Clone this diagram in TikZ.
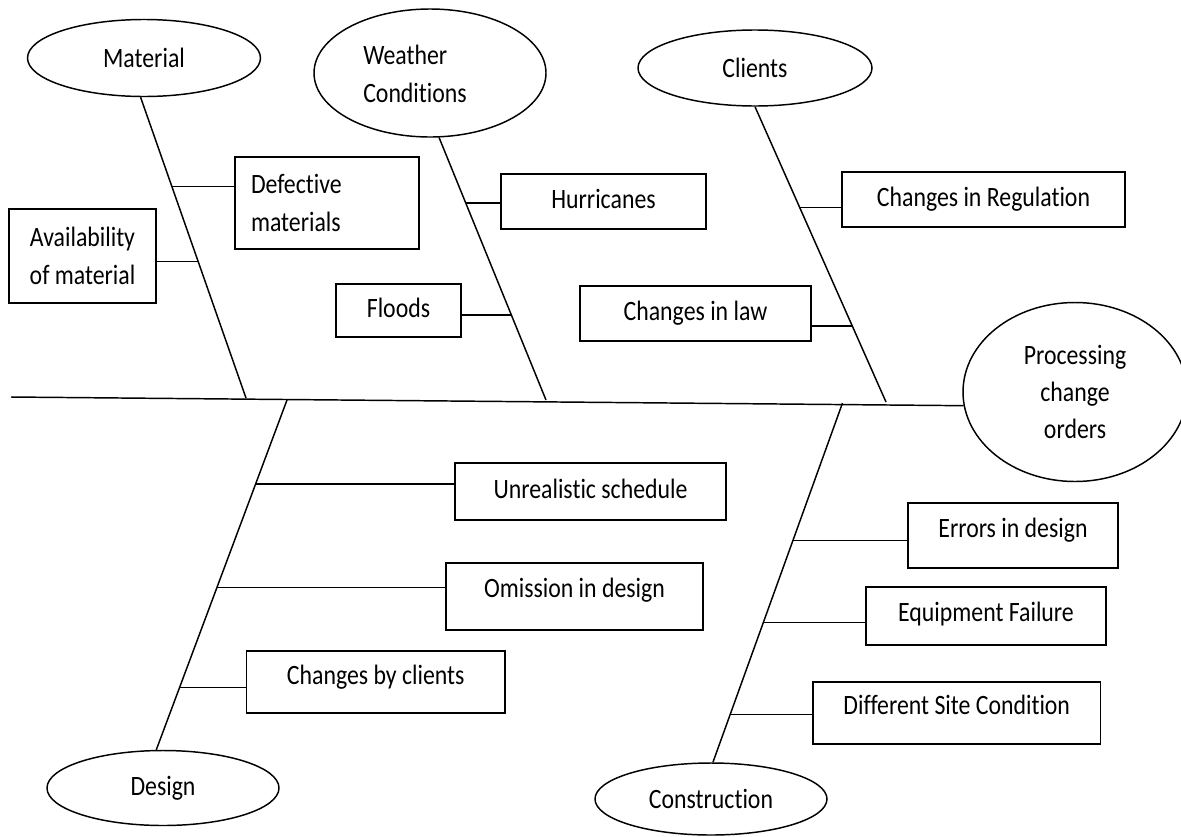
\documentclass[tikz,border=0pt]{standalone}
\usepackage{fontspec}
\setmainfont{Carlito}[FakeStretch=0.85, Ligatures={NoCommon}]
\usetikzlibrary{shapes.geometric,calc}

\begin{document}
\begin{tikzpicture}[x=0.75pt,y=-0.75pt,
  every node/.style={font=\fontsize{21pt}{28pt}\selectfont, inner sep=0pt},
  line/.style={line width=1.1pt, black},
  cat/.style={ellipse, draw, line width=1.1pt, inner sep=0pt},
  cause/.style={rectangle, draw, line width=1.2pt, inner sep=0pt},
  single/.style={text height=15pt, text depth=#1},
  single/.default=5pt,
]
\useasboundingbox (0,0) rectangle (1181,836);

% category heads
\node[cat, minimum width=174.75pt, minimum height=57.75pt] (matl) at (144,58) {Material};
\node[cat, minimum width=174pt, minimum height=96pt] (wcond) at (430,73) {};
\node[anchor=west, align=left] (wcondtext) at (363,74) {Weather\\Conditions};
\node[cat, minimum width=175.5pt, minimum height=57pt] (clnt) at (755,68) {Clients};
\node[cat, minimum width=168pt, minimum height=134.25pt, align=center] (proc) at (1075,392) {Processing\\change\\orders};
\node[cat, minimum width=174pt, minimum height=56.25pt] (dsgn) at (163,788) {Design};
\node[cat, minimum width=174pt, minimum height=54pt] (cons) at (711,799) {Construction};

% causes
\node[cause, minimum width=138pt, minimum height=69pt, text width=114pt, align=left] (defect) at (327,203) {Defective\\materials};
\node[cause, minimum width=110.25pt, minimum height=70.5pt, align=center] (avail) at (82.5,256) {Availability\\of material};
\node[cause, single, minimum width=153.75pt, minimum height=41.25pt] (hurr) at (603.5,201.5) {Hurricanes};
\node[cause, single, minimum width=93.75pt, minimum height=39.75pt] (flood) at (398.5,310.5) {Floods};
\node[cause, single, minimum width=212.25pt, minimum height=41.25pt] (regul) at (983.5,199.5) {Changes in Regulation};
\node[cause, single, minimum width=173.25pt, minimum height=41.25pt] (law) at (695.5,313.5) {Changes in law};
\node[cause, single, minimum width=203.25pt, minimum height=42.75pt] (unreal) at (590.5,491.5) {Unrealistic schedule};
\node[cause, single=13pt, minimum width=192.75pt, minimum height=50.25pt] (omit) at (574.5,596.5) {Omission in design};
\node[cause, single=11pt, minimum width=193.9pt, minimum height=46.5pt] (byclient) at (375.75,682) {Changes by clients};
\node[cause, single=11.8pt, minimum width=157.5pt, minimum height=48.75pt] (errs) at (1013,535.5) {Errors in design};
\node[cause, single=7pt, minimum width=180pt, minimum height=43.5pt] (equip) at (986,616) {Equipment Failure};
\node[cause, single=12.5pt, minimum width=215.6pt, minimum height=46.5pt] (site) at (956.75,713) {Different Site Condition};

% spine
\coordinate (spL) at (11,397);
\coordinate (mB) at (246,398);
\coordinate (wB) at (546,400);
\coordinate (cB) at (886,402);
\coordinate (dT) at (287,400);
\coordinate (kT) at (842.5,403);
\draw[line] (spL) -- (proc.187);

% bones with their junctions
\draw[line] (matl.-95) -- (mB) coordinate[pos=0.297] (m1) coordinate[pos=0.546] (m2);
\draw[line] (wcond.-82) -- (wB) coordinate[pos=0.249] (w1) coordinate[pos=0.676] (w2);
\draw[line] (clnt.south) -- (cB) coordinate[pos=0.341] (c1) coordinate[pos=0.743] (c2);
\draw[line] (dT) -- (dsgn.100) coordinate[pos=0.24] (d1) coordinate[pos=0.536] (d2) coordinate[pos=0.822] (d3);
\draw[line] (kT) -- (cons.87) coordinate[pos=0.383] (k1) coordinate[pos=0.611] (k2) coordinate[pos=0.867] (k3);

% cause connectors
\draw[line] (m1) -- (m1 -| defect.west);
\draw[line] (m2) -- (m2 -| avail.east);
\draw[line] (w1) -- (w1 -| hurr.west);
\draw[line] (w2) -- (w2 -| flood.east);
\draw[line] (c1) -- (c1 -| regul.west);
\draw[line] (c2) -- (c2 -| law.east);
\draw[line] (d1) -- (d1 -| unreal.west);
\draw[line] (d2) -- (d2 -| omit.west);
\draw[line] (d3) -- (d3 -| byclient.west);
\draw[line] (k1) -- (k1 -| errs.west);
\draw[line] (k2) -- (k2 -| equip.west);
\draw[line] (k3) -- (k3 -| site.west);
\end{tikzpicture}
\end{document}
